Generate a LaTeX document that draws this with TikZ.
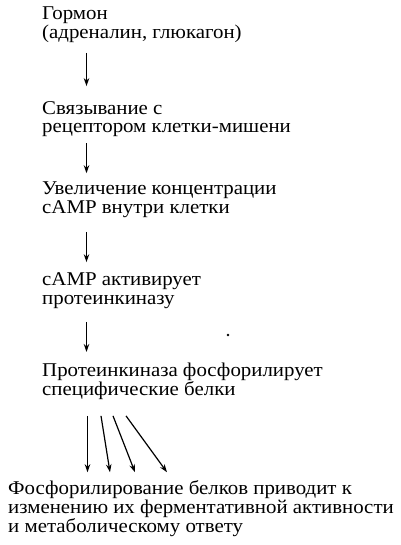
\documentclass[tikz,border=0pt]{standalone}
\usepackage{fontspec}
\setmainfont{Liberation Serif}[FakeStretch=1.07]
\usetikzlibrary{arrows.meta}
\tikzset{
	stepbox/.style={anchor=base west, align=left, inner sep=0pt, font=\fontsize{19.5pt}{18.8pt}\selectfont},
	flow/.style={-{Stealth[length=8pt,width=5.5pt]}, line width=1.2pt}
}
\begin{document}
\begin{tikzpicture}[x=1pt,y=-1pt]
		\useasboundingbox (0,0) rectangle (400,545);
		\node[stepbox] (horm) at (42,38.5) {Гормон\\(адреналин, глюкагон)};
		\node[stepbox] (bind) at (42,133) {Связывание с\\рецептором клетки-мишени};
		\node[stepbox] (camp) at (42,213) {Увеличение концентрации\\cAMP внутри клетки};
		\node[stepbox] (act) at (42,304.5) {cAMP активирует\\протеинкиназу};
		\node[stepbox] (phos) at (42,395.5) {Протеинкиназа фосфорилирует\\специфические белки};
		\node[stepbox] (resp) at (8,532) {Фосфорилирование белков приводит к\\изменению их ферментативной активности\\и метаболическому ответу};
		% single steps
		\draw[flow] ([xshift=44.5pt,yshift=-10pt]horm.south west) -- ([xshift=44.5pt,yshift=15pt]bind.north west);
		\draw[flow] ([xshift=44.5pt,yshift=-6pt]bind.south west) -- ([xshift=44.5pt,yshift=8pt]camp.north west);
		\draw[flow] ([xshift=44.5pt,yshift=-14.5pt]camp.south west) -- ([xshift=44.5pt,yshift=10.5pt]act.north west);
		\draw[flow] ([xshift=44.5pt,yshift=-13pt]act.south west) -- ([xshift=44.5pt,yshift=11pt]phos.north west);
		% fan to the last step
		\foreach \xa/\xb in {45.5/79.5, 59/102, 71/127, 84/159}{
			\draw[flow] ([xshift=\xa pt,yshift=-16pt]phos.south west) -- ([xshift=\xb pt,yshift=8pt]resp.north west);
		}
		\fill (228,335) circle (1.4pt);
	\end{tikzpicture}
\end{document}
